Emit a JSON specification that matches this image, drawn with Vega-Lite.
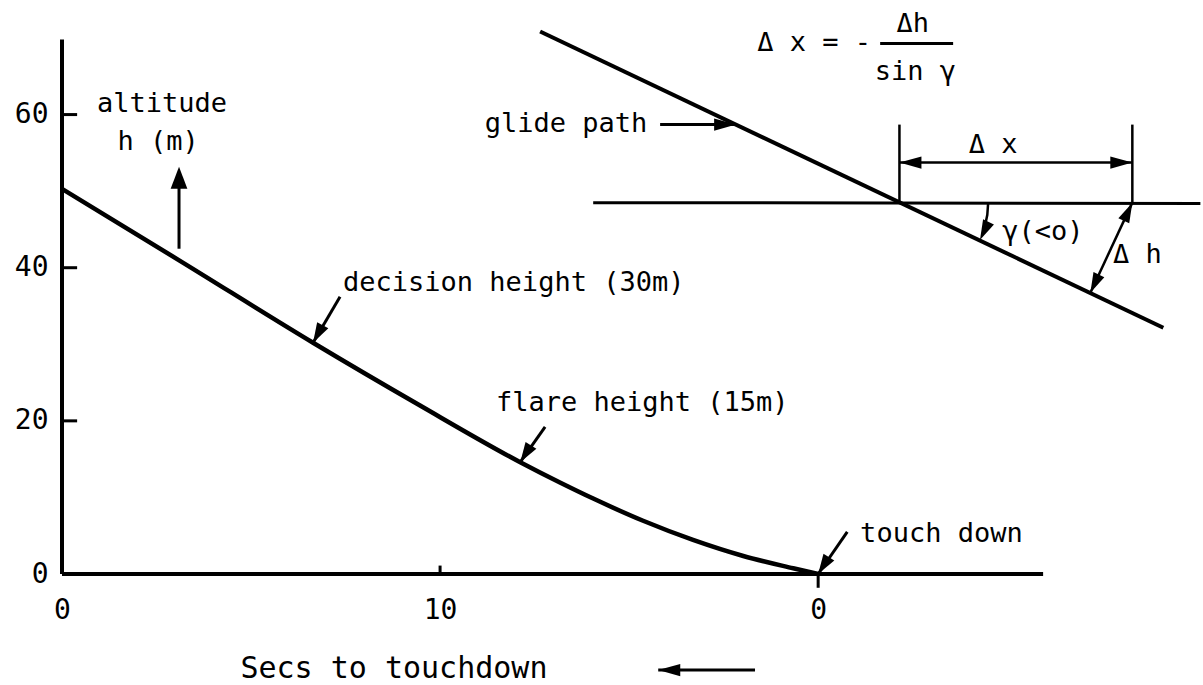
{
  "$schema": "https://vega.github.io/schema/vega-lite/v6.json",
  "width": 983,
  "height": 536,
  "autosize": {"type": "none"},
  "padding": {"left": 62, "top": 38, "right": 158, "bottom": 111},
  "background": "white",
  "config": {"view": {"stroke": null}, "font": "DejaVu Sans Mono"},
  "encoding": {
    "x": {"field": "x", "type": "quantitative", "scale": {"domain": [0, 26], "nice": false, "zero": false},
      "axis": {"values": [0, 10, 20], "labelExpr": "datum.value == 20 ? '0' : datum.label", "domain": false, "ticks": false, "grid": false, "title": null,
        "labelFont": "DejaVu Sans Mono", "labelFontSize": 28, "labelPadding": 22, "labelColor": "black", "labelFlush": false, "labelOverlap": false}},
    "y": {"field": "y", "type": "quantitative", "scale": {"domain": [0, 70], "nice": false, "zero": false},
      "axis": {"values": [0, 20, 40, 60], "domain": false, "ticks": false, "grid": false, "title": null,
        "labelFont": "DejaVu Sans Mono", "labelFontSize": 28, "labelPadding": 14, "labelColor": "black", "labelFlush": false, "labelOverlap": false}}
  },
  "layer": [
    {
      "data": {"values": [
        {"x": 0, "y": 50.3}, {"x": 3.12, "y": 40.9}, {"x": 6.64, "y": 30.2}, {"x": 9.47, "y": 22.0},
        {"x": 12.12, "y": 14.6}, {"x": 13.17, "y": 11.95}, {"x": 14.05, "y": 9.85}, {"x": 15.37, "y": 6.95},
        {"x": 16.69, "y": 4.45}, {"x": 18.02, "y": 2.35}, {"x": 19.34, "y": 0.75}, {"x": 20, "y": 0}
      ]},
      "mark": {"type": "line", "color": "black", "strokeWidth": 4.5, "interpolate": "monotone"}
    },
    {
      "data": {"values": [
        {"x": 0, "y": 0, "x2": 0, "y2": 69.8},
        {"x": 0, "y": 0, "x2": 25.95, "y2": 0},
        {"x": 12.646, "y": 70.85, "x2": 29.13, "y2": 32.16}
      ]},
      "mark": {"type": "rule", "color": "black", "strokeWidth": 4},
      "encoding": {"x2": {"field": "x2"}, "y2": {"field": "y2"}}
    },
    {
      "data": {"values": [
        {"x": 14.05, "y": 48.5, "x2": 30.11, "y2": 48.4},
        {"x": 0, "y": 20, "x2": 0.4, "y2": 20},
        {"x": 0, "y": 40, "x2": 0.4, "y2": 40},
        {"x": 0, "y": 60, "x2": 0.4, "y2": 60},
        {"x": 10, "y": 0, "x2": 10, "y2": 1.1},
        {"x": 20, "y": 0, "x2": 20, "y2": -1.8},
        {"x": 3.095, "y": 42.48, "x2": 3.095, "y2": 51},
        {"x": 7.354, "y": 36.21, "x2": 6.64, "y2": 30.2},
        {"x": 12.778, "y": 19.22, "x2": 12.12, "y2": 14.6},
        {"x": 20.77, "y": 5.49, "x2": 20.0, "y2": 0},
        {"x": 15.82, "y": 58.69, "x2": 17.83, "y2": 58.69},
        {"x": 18.33, "y": -12.55, "x2": 15.77, "y2": -12.55},
        {"x": 21.64, "y": 69.28, "x2": 23.57, "y2": 69.28}
      ]},
      "mark": {"type": "rule", "color": "black", "strokeWidth": 3},
      "encoding": {"x2": {"field": "x2"}, "y2": {"field": "y2"}}
    },
    {
      "data": {"values": [
        {"x": 22.15, "y": 58.69, "x2": 22.15, "y2": 48.5},
        {"x": 28.31, "y": 58.69, "x2": 28.31, "y2": 48.5},
        {"x": 22.15, "y": 53.73, "x2": 28.31, "y2": 53.73},
        {"x": 28.31, "y": 48.5, "x2": 27.2, "y2": 36.73}
      ]},
      "mark": {"type": "rule", "color": "black", "strokeWidth": 2.5},
      "encoding": {"x2": {"field": "x2"}, "y2": {"field": "y2"}}
    },
    {
      "data": {"values": [
        {"x": 24.497, "y": 48.5}, {"x": 24.474, "y": 46.9}, {"x": 24.407, "y": 45.33}, {"x": 24.357, "y": 44.56}
      ]},
      "mark": {"type": "line", "color": "black", "strokeWidth": 2.5}
    },
    {
      "data": {"values": [{"x": 3.095, "y": 53.2}]},
      "mark": {"type": "point", "shape": "M0,0L0.38,1L-0.38,1Z", "filled": true, "color": "black", "opacity": 1, "size": 1936, "angle": 0, "strokeWidth": 0}
    },
    {
      "data": {"values": [{"x": 17.83, "y": 58.69}, {"x": 28.31, "y": 53.73}]},
      "mark": {"type": "point", "shape": "M0,0L0.28,1L-0.28,1Z", "filled": true, "color": "black", "opacity": 1, "size": 1936, "angle": 90, "strokeWidth": 0}
    },
    {
      "data": {"values": [{"x": 22.15, "y": 53.73}, {"x": 15.77, "y": -12.55}]},
      "mark": {"type": "point", "shape": "M0,0L0.28,1L-0.28,1Z", "filled": true, "color": "black", "opacity": 1, "size": 1936, "angle": 270, "strokeWidth": 0}
    },
    {
      "data": {"values": [{"x": 6.64, "y": 30.2}]},
      "mark": {"type": "point", "shape": "M0,0L0.32,1L-0.32,1Z", "filled": true, "color": "black", "opacity": 1, "size": 1600, "angle": 209, "strokeWidth": 0}
    },
    {
      "data": {"values": [{"x": 12.12, "y": 14.6}, {"x": 20.0, "y": 0}]},
      "mark": {"type": "point", "shape": "M0,0L0.32,1L-0.32,1Z", "filled": true, "color": "black", "opacity": 1, "size": 1600, "angle": 212.5, "strokeWidth": 0}
    },
    {
      "data": {"values": [{"x": 28.31, "y": 48.5}]},
      "mark": {"type": "point", "shape": "M0,0L0.3,1L-0.3,1Z", "filled": true, "color": "black", "opacity": 1, "size": 1600, "angle": 25.3, "strokeWidth": 0}
    },
    {
      "data": {"values": [{"x": 27.2, "y": 36.73}, {"x": 24.28, "y": 43.63}]},
      "mark": {"type": "point", "shape": "M0,0L0.3,1L-0.3,1Z", "filled": true, "color": "black", "opacity": 1, "size": 1600, "angle": 205.3, "strokeWidth": 0}
    },
    {
      "data": {"values": [
        {"x": 7.434, "y": 36.99, "t": "decision height (30m)"},
        {"x": 11.48, "y": 21.31, "t": "flare height (15m)"},
        {"x": 21.11, "y": 4.18, "t": "touch down"},
        {"x": 18.39, "y": 68.24, "t": "Δ x = -"},
        {"x": 24.87, "y": 43.66, "t": "γ(<o)"},
        {"x": 27.8, "y": 40.65, "t": "Δ h"}
      ]},
      "mark": {"type": "text", "font": "DejaVu Sans Mono", "fontSize": 27, "align": "left", "baseline": "alphabetic", "color": "black"},
      "encoding": {"text": {"field": "t"}}
    },
    {
      "data": {"values": [
        {"x": 2.646, "y": 60.39, "t": "altitude"},
        {"x": 2.54, "y": 55.42, "t": "h (m)"},
        {"x": 22.5, "y": 70.72, "t": "Δh"},
        {"x": 22.57, "y": 64.58, "t": "sin γ"},
        {"x": 24.63, "y": 55.03, "t": "Δ x"}
      ]},
      "mark": {"type": "text", "font": "DejaVu Sans Mono", "fontSize": 27, "align": "center", "baseline": "alphabetic", "color": "black"},
      "encoding": {"text": {"field": "t"}}
    },
    {
      "data": {"values": [{"x": 15.48, "y": 57.78, "t": "glide path"}]},
      "mark": {"type": "text", "font": "DejaVu Sans Mono", "fontSize": 27, "align": "right", "baseline": "alphabetic", "color": "black"},
      "encoding": {"text": {"field": "t"}}
    },
    {
      "data": {"values": [{"x": 8.78, "y": -13.59, "t": "Secs to touchdown"}]},
      "mark": {"type": "text", "font": "DejaVu Sans Mono", "fontSize": 30, "align": "center", "baseline": "alphabetic", "color": "black"},
      "encoding": {"text": {"field": "t"}}
    }
  ]
}
